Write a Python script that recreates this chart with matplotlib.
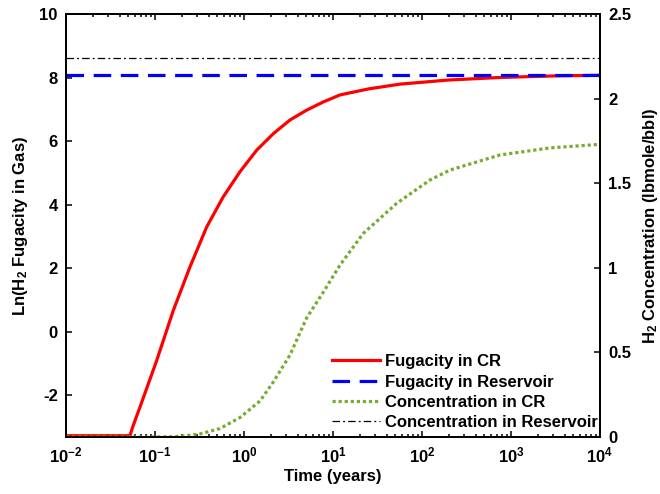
import numpy as np
import matplotlib
matplotlib.use('Agg')
from matplotlib import pyplot as plt

# ---- data (time given as log10 of years) ----
fug_cr_logt = [-2.0, -1.281, -1.25, -1.169, -0.981, -0.794, -0.607, -0.419, -0.233,
               -0.045, 0.143, 0.330, 0.517, 0.704, 0.892, 1.079, 1.4, 1.753, 2.3, 2.876, 3.5, 4.0]
fug_cr_val = [-3.28, -3.28, -3.0, -2.38, -0.91, 0.67, 2.04, 3.30, 4.25,
              5.04, 5.72, 6.24, 6.67, 6.98, 7.24, 7.46, 7.65, 7.80, 7.93, 8.01, 8.06, 8.08]

conc_cr_logt = [-2.0, -1.0, -0.719, -0.494, -0.270, -0.045, 0.180, 0.329, 0.517, 0.704,
                0.892, 1.079, 1.340, 1.716, 2.090, 2.315, 2.876, 3.44, 4.0]
conc_cr_val = [0.0, 0.0, 0.003, 0.018, 0.050, 0.115, 0.213, 0.325, 0.485, 0.704,
               0.857, 1.017, 1.204, 1.382, 1.520, 1.579, 1.668, 1.71, 1.731]

fug_res = 8.08
conc_res = 2.243

xticks = [1e-2, 1e-1, 1e0, 1e1, 1e2, 1e3, 1e4]
xticklabels = [r'10$^{-2}$', r'10$^{-1}$', r'10$^{0}$', r'10$^{1}$', r'10$^{2}$', r'10$^{3}$', r'10$^{4}$']
left_ticks = [-2, 0, 2, 4, 6, 8, 10]
right_ticks = [0, 0.5, 1, 1.5, 2, 2.5]
right_ticklabels = ['0', '0.5', '1', '1.5', '2', '2.5']
legend_labels = ['Fugacity in CR', 'Fugacity in Reservoir', 'Concentration in CR', 'Concentration in Reservoir']

# ---- style ----
plt.rcParams['font.family'] = ['Liberation Sans', 'DejaVu Sans']
plt.rcParams['font.weight'] = 'bold'
plt.rcParams['font.size'] = 12
plt.rcParams['axes.labelweight'] = 'bold'
plt.rcParams['axes.unicode_minus'] = False
plt.rcParams['mathtext.fontset'] = 'custom'
plt.rcParams['mathtext.rm'] = 'Liberation Sans:bold'
plt.rcParams['mathtext.bf'] = 'Liberation Sans:bold'
plt.rcParams['mathtext.default'] = 'bf'

green = (0.466, 0.674, 0.188)

fig = plt.figure(figsize=(6.6, 4.94), dpi=100)
ax = fig.add_axes([0.1, 0.1154, 0.809, 0.8556])
ax2 = ax.twinx()

t_fug = 10 ** np.array(fug_cr_logt)
t_conc = 10 ** np.array(conc_cr_logt)

l1, = ax.plot(t_fug, fug_cr_val, color='red', lw=2.3)
l2, = ax.plot([1e-2, 1e4], [fug_res, fug_res], color='blue', lw=2.3, dashes=(5.5, 3))
l3, = ax2.plot(t_conc, conc_cr_val, color=green, lw=2.3, dashes=(1, 0.9))
l4, = ax2.plot([1e-2, 1e4], [conc_res, conc_res], color='black', lw=0.9, dashes=(6, 2.5, 1.5, 2.5))

ax.set_xscale('log')
ax.set_xlim(1e-2, 1e4)
ax.set_ylim(-3.32, 10)
ax2.set_ylim(0, 2.5)

ax.set_xticks(xticks)
ax.set_xticklabels(xticklabels)
ax.set_yticks(left_ticks)
ax.set_yticklabels([str(v) for v in left_ticks])
ax2.set_yticks(right_ticks)
ax2.set_yticklabels(right_ticklabels)

ax.tick_params(axis='x', which='both', direction='in', top=True, width=1.1)
ax.tick_params(axis='x', which='major', length=4.5, pad=6)
ax.tick_params(axis='x', which='minor', length=2.5)
ax.tick_params(axis='y', direction='in', length=4.5, width=1.1, right=False, pad=6)
ax2.tick_params(axis='y', direction='in', length=4.5, width=1.1, pad=6)

for a in (ax, ax2):
    for s in a.spines.values():
        s.set_linewidth(1.3)

ax.set_xlabel('Time (years)', labelpad=3)
ax.set_ylabel('Ln(H$_2$ Fugacity in Gas)', labelpad=7)
ax2.set_ylabel('H$_2$ Concentration (lbmole/bbl)', labelpad=7)

ax2.legend([l1, l2, l3, l4], legend_labels,
           loc='lower right', bbox_to_anchor=(1.0, 0.01), frameon=False,
           handlelength=2.9, handletextpad=0.25, labelspacing=0.32,
           borderaxespad=0.0, borderpad=0.15, fontsize=12)

fig.savefig('out.png', dpi=100)
